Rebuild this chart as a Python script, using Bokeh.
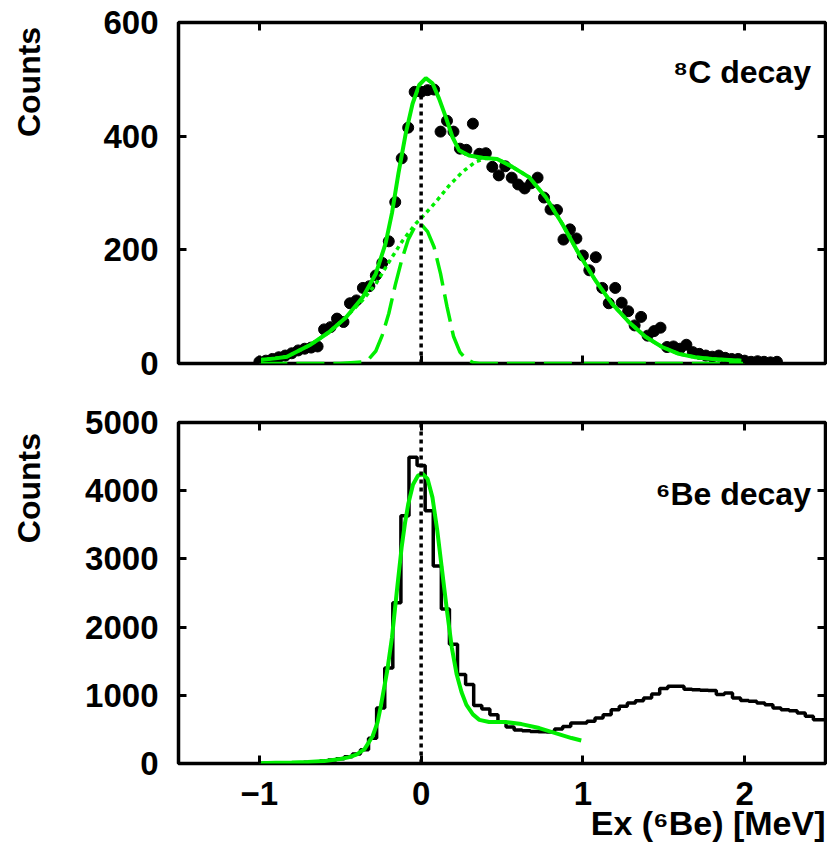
from bokeh.plotting import figure
from bokeh.models import Range1d, LinearAxis, FixedTicker, Label, Title
from bokeh.layouts import column, row
from bokeh.embed import file_html
from bokeh.resources import INLINE
import math

# ---------------- data: top panel (8C decay) ----------------
pts_x = [-1.00, -0.96, -0.92, -0.88, -0.84, -0.80, -0.76, -0.72, -0.68, -0.64,
         -0.60, -0.56, -0.52, -0.48, -0.44, -0.40, -0.36, -0.32, -0.28, -0.24,
         -0.20, -0.16, -0.12, -0.08, -0.04, 0.00, 0.04, 0.08, 0.12, 0.16,
         0.20, 0.24, 0.28, 0.32, 0.36, 0.40, 0.44, 0.48, 0.52, 0.56,
         0.60, 0.64, 0.68, 0.72, 0.76, 0.80, 0.84, 0.88, 0.92, 0.96,
         1.00, 1.04, 1.08, 1.12, 1.16, 1.20, 1.24, 1.28, 1.32, 1.36,
         1.40, 1.44, 1.48, 1.52, 1.56, 1.60, 1.64, 1.68, 1.72, 1.76,
         1.80, 1.84, 1.88, 1.92, 1.96, 2.00, 2.04, 2.08, 2.12, 2.16, 2.20]
pts_y = [3, 5, 8, 11, 14, 18, 23, 26, 28, 30,
         60, 64, 79, 73, 106, 111, 133, 136, 155, 177,
         215, 284, 361, 415, 478, 478, 481, 482, 408, 427,
         408, 378, 376, 422, 369, 370, 346, 331, 347, 327,
         315, 308, 317, 327, 292, 271, 270, 218, 236, 220,
         190, 164, 187, 133, 106, 133, 107, 92, 67, 82,
         49, 57, 63, 29, 30, 26, 33, 20, 17, 14,
         12, 14, 10, 8, 8, 5, 3, 4, 3, 2, 3]

total_x = [-1.0, -0.9, -0.83, -0.69, -0.57, -0.465, -0.36, -0.28, -0.22, -0.18,
           -0.14, -0.095, -0.053, -0.012, 0.029, 0.07, 0.111, 0.152, 0.193, 0.235,
           0.296, 0.379, 0.47, 0.564, 0.667, 0.77, 0.872, 0.975, 1.078, 1.181,
           1.284, 1.387, 1.49, 1.593, 1.695, 1.8, 1.98]
total_y = [6, 9, 12, 32, 55, 81, 117, 158, 211, 265,
           335, 405, 457, 490, 502, 493, 466, 434, 399, 375,
           366, 362, 360, 346, 328, 293, 246, 193, 146, 105,
           73, 47, 29, 17, 11, 8, 5]

broad_x = [-1.0, -0.83, -0.69, -0.57, -0.47, -0.36, -0.28, -0.2, -0.115, -0.033,
           0.008, 0.09, 0.173, 0.255, 0.337, 0.4, 0.47, 0.564, 0.667, 0.77,
           0.872, 0.975, 1.078, 1.181, 1.284, 1.387, 1.49, 1.593, 1.695, 1.8, 1.98]
broad_y = [6, 12, 32, 55, 80, 112, 140, 178, 216, 246,
           258, 284, 313, 337, 355, 361, 360, 346, 328, 293,
           246, 193, 146, 105, 73, 47, 29, 17, 11, 8, 5]

narrow_x = [-1.0, -0.5, -0.36, -0.32, -0.28, -0.24, -0.2, -0.16, -0.12, -0.08,
            -0.04, 0.0, 0.04, 0.08, 0.12, 0.16, 0.2, 0.24, 0.28, 0.32,
            0.36, 0.5, 1.0, 1.5, 2.0]
narrow_y = [0, 0, 3, 9, 22, 50, 88, 138, 182, 218,
            240, 245, 232, 205, 158, 100, 48, 20, 7, 2,
            0, 0, 0, 0, 0]

# ---------------- data: bottom panel (6Be decay) ----------------
hist_x = [-1.00, -0.95, -0.90, -0.85, -0.80, -0.75, -0.70, -0.65, -0.60, -0.55,
          -0.50, -0.45, -0.40, -0.35, -0.30, -0.25, -0.20, -0.15, -0.10, -0.05,
          0.00, 0.05, 0.10, 0.15, 0.20, 0.25, 0.30, 0.35, 0.40, 0.45,
          0.50, 0.55, 0.60, 0.65, 0.70, 0.75, 0.80, 0.85, 0.90, 0.95,
          1.00, 1.05, 1.10, 1.15, 1.20, 1.25, 1.30, 1.35, 1.40, 1.45,
          1.50, 1.55, 1.60, 1.65, 1.70, 1.75, 1.80, 1.85, 1.90, 1.95,
          2.00, 2.05, 2.10, 2.15, 2.20, 2.25, 2.30, 2.35, 2.40, 2.45, 2.50]
hist_y = [0, 2, 3, 5, 8, 12, 18, 25, 35, 50,
          70, 100, 140, 200, 372, 814, 1402, 2358, 3632, 4490,
          4368, 3706, 2897, 2265, 1750, 1304, 1160, 850, 800, 715,
          610, 535, 490, 480, 470, 465, 462, 505, 544, 593,
          595, 618, 667, 716, 789, 838, 887, 921, 961, 1020,
          1098, 1132, 1132, 1090, 1083, 1075, 1069, 1010, 1034, 961,
          922, 912, 887, 863, 814, 789, 775, 740, 691, 642, 642]

fit_x = [-1.0, -0.9, -0.8, -0.7, -0.6, -0.5, -0.45, -0.4, -0.35, -0.3,
         -0.27, -0.25, -0.21, -0.18, -0.15, -0.12, -0.1, -0.08, -0.05, -0.02,
         0.01, 0.04, 0.07, 0.1, 0.13, 0.16, 0.19, 0.22, 0.25, 0.28,
         0.32, 0.36, 0.42, 0.52, 0.62, 0.73, 0.83, 0.93, 0.99]
fit_y = [5, 10, 15, 22, 35, 65, 90, 130, 210, 400,
         600, 830, 1353, 1850, 2530, 3180, 3520, 3800, 4090, 4220,
         4245, 4172, 3902, 3412, 2824, 2235, 1696, 1304, 1045, 860,
         720, 640, 608, 608, 578, 520, 446, 373, 338]

x_ticks = [-1, 0, 1, 2]
top_y_ticks = [0, 200, 400, 600]
bot_y_ticks = [0, 1000, 2000, 3000, 4000, 5000]

FONT = "Liberation Sans"
GREEN = "#00ee00"
TICK_FS = "33px"
SIDE_W = 52


def side_label(height, top_px):
    """Narrow strip holding the rotated 'Counts' title, top-aligned with the frame."""
    s = figure(width=SIDE_W, height=height, output_backend="svg", toolbar_location=None,
               x_range=Range1d(0, SIDE_W), y_range=Range1d(0, height),
               min_border_left=0, min_border_right=0, min_border_top=0, min_border_bottom=0,
               x_axis_type=None, y_axis_type=None)
    s.grid.visible = False
    s.outline_line_color = None
    s.background_fill_color = "white"
    s.border_fill_color = "white"
    s.add_layout(Label(x=28, y=height - top_px, text="Counts", angle=math.pi / 2,
                       text_align="right", text_baseline="middle", text_font=FONT,
                       text_font_style="bold", text_font_size="32px", text_color="black"))
    return s


def make_fig(height, border_top, border_bottom, ymax, yticks, show_x_labels):
    p = figure(width=827 - SIDE_W, height=height, output_backend="svg", toolbar_location=None,
               x_range=Range1d(-1.5, 2.5), y_range=Range1d(0, ymax),
               min_border_left=178 - SIDE_W, min_border_right=2,
               min_border_top=border_top, min_border_bottom=border_bottom,
               x_axis_type=None, y_axis_type=None)
    p.grid.visible = False
    p.outline_line_color = "black"
    p.outline_line_width = 3.5
    p.background_fill_color = "white"
    p.border_fill_color = "white"

    def ax(axis, ticks, labels, standoff=20):
        axis.ticker = FixedTicker(ticks=ticks)
        axis.axis_line_color = None
        axis.major_tick_in = 8
        axis.major_tick_out = 0
        axis.minor_tick_in = 0
        axis.minor_tick_out = 0
        axis.major_tick_line_width = 3
        axis.major_tick_line_color = "black"
        axis.major_label_text_font = FONT
        axis.major_label_text_font_style = "bold"
        axis.major_label_text_color = "black"
        if labels:
            axis.major_label_text_font_size = TICK_FS
            axis.major_label_standoff = standoff
            axis.major_label_overrides = {-1: "\u22121"}
        else:
            axis.major_label_text_font_size = "1px"
            axis.major_label_standoff = 0
            axis.major_label_overrides = {t: "" for t in ticks}
        return axis

    p.add_layout(ax(LinearAxis(), yticks, True, 20), "left")
    p.add_layout(ax(LinearAxis(), yticks, False), "right")
    p.add_layout(ax(LinearAxis(), x_ticks, show_x_labels, 18), "below")
    p.add_layout(ax(LinearAxis(), x_ticks, False), "above")
    return p


# ---------------- top panel ----------------
H1, T1, B1 = 392, 22, 29
p1 = make_fig(H1, T1, B1, 600, top_y_ticks, False)
p1.scatter(pts_x, pts_y, size=11, color="black", marker="circle")
p1.line(narrow_x, narrow_y, color=GREEN, line_width=3.5, line_dash="28 9")
p1.line(broad_x, broad_y, color=GREEN, line_width=3.5, line_dash="4 4")
p1.line(total_x, total_y, color=GREEN, line_width=4)
p1.line([0, 0], [0, 490], color="black", line_width=3.5, line_dash="4 4")

p1.add_layout(Label(x=2.41, y=513, text="\u2078C decay", text_align="right",
                    text_baseline="alphabetic", text_font=FONT,
                    text_font_style="bold", text_font_size="32px", text_color="black"))

# ---------------- bottom panel ----------------
H2, T2, B2 = 458, 30, 87
p2 = make_fig(H2, T2, B2, 5000, bot_y_ticks, True)
p2.step(hist_x, hist_y, mode="center", color="black", line_width=3.5)
p2.line(fit_x, fit_y, color=GREEN, line_width=4)
p2.line([0, 0], [0, 5000], color="black", line_width=3.5, line_dash="4 4")

p2.add_layout(Label(x=2.41, y=3956, text="\u2076Be decay", text_align="right",
                    text_baseline="alphabetic", text_font=FONT,
                    text_font_style="bold", text_font_size="32px", text_color="black"))
p2.add_layout(Title(text="Ex (\u2076Be) [MeV]", align="right", standoff=-12,
                    text_font=FONT, text_font_style="bold",
                    text_font_size="34px", text_color="black"), "below")

layout = column(row(side_label(H1, T1 - 17), p1, spacing=0),
                row(side_label(H2, T2 - 16), p2, spacing=0), spacing=0)
open("out.html", "w").write(file_html(layout, INLINE))
